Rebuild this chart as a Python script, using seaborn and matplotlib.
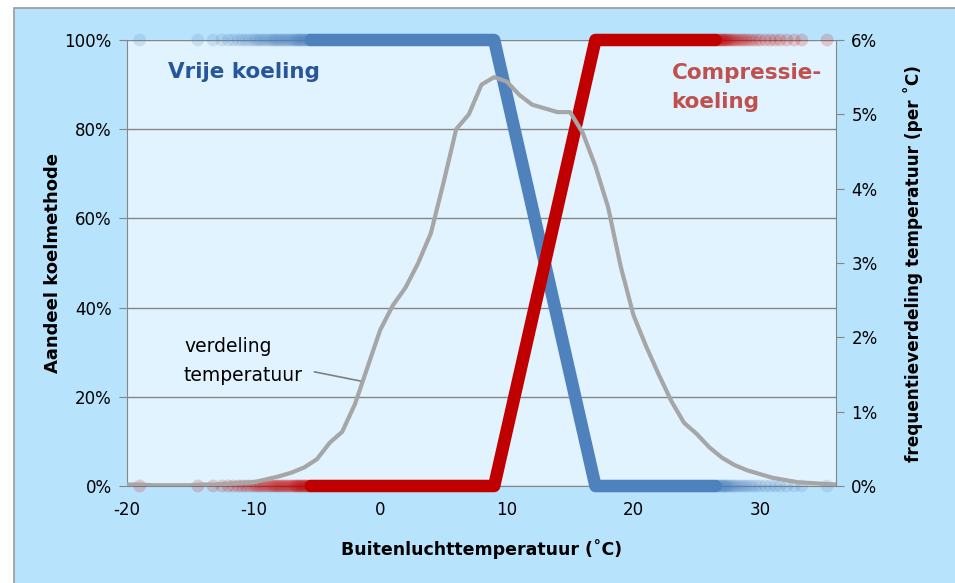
import pandas as pd
import matplotlib.pyplot as plt
import seaborn as sns
from matplotlib.patches import Rectangle

# share of each cooling method (%) at the corner temperatures
knik_temp = [-5.5, 9, 17, 26.5]
vrije_koeling = [100, 100, 0, 0]
compressie_koeling = [0, 0, 100, 100]

# loose hourly temperatures at the cold and warm ends (pale dots)
koude_uren = [-19, -14.4, -13.2, -12.5, -12.0, -11.6, -11.2, -10.9, -10.6, -10.3,
              -10.0, -9.8, -9.6, -9.4, -9.2, -9.0, -8.8, -8.6, -8.45, -8.3,
              -8.15, -8.0, -7.85, -7.7, -7.55, -7.4, -7.25, -7.1, -6.95, -6.8,
              -6.7, -6.6, -6.5, -6.4, -6.3, -6.2, -6.1, -6.0, -5.9, -5.8,
              -5.7, -5.6]
warme_uren = [35.3, 33.3, 32.7, 32.1, 31.6, 31.2, 30.8, 30.4, 30.0, 29.7,
              29.4, 29.15, 28.9, 28.7, 28.5, 28.3, 28.1, 27.95, 27.8, 27.65,
              27.5, 27.4, 27.3, 27.2, 27.1, 27.0, 26.9, 26.8, 26.7, 26.6]

# frequency distribution of the outdoor temperature (% per degree C)
temp = list(range(-20, 37))
freq = [0.02, 0.02, 0.01, 0.01, 0.01, 0.01, 0.02, 0.02, 0.03, 0.04,
        0.05, 0.09, 0.13, 0.18, 0.25, 0.36, 0.58, 0.73, 1.10, 1.60,
        2.10, 2.43, 2.67, 3.00, 3.40, 4.08, 4.80, 5.00, 5.40, 5.50,
        5.44, 5.26, 5.13, 5.08, 5.03, 5.03, 4.75, 4.30, 3.75, 2.95,
        2.30, 1.88, 1.50, 1.14, 0.85, 0.70, 0.52, 0.38, 0.28, 0.21,
        0.16, 0.11, 0.08, 0.05, 0.04, 0.03, 0.02]

blauw = "#4f81bd"
rood = "#c00000"
grijs = "#868686"

df_lijn = pd.DataFrame({"T": knik_temp, "vrij": vrije_koeling, "comp": compressie_koeling})
df_koud = pd.DataFrame({"T": koude_uren})
df_warm = pd.DataFrame({"T": warme_uren})
df_freq = pd.DataFrame({"T": temp, "f": freq})

sns.set_style("white")
plt.rcParams["font.family"] = ["DejaVu Sans"]
plt.rcParams["axes.unicode_minus"] = False
plt.rcParams["text.color"] = "black"
plt.rcParams["axes.labelcolor"] = "black"

fig = plt.figure(figsize=(9.55, 5.83), dpi=100, facecolor="white")
fig.patches.append(Rectangle((14 / 955, -0.1), 1.0, 1.1 - 8 / 583, transform=fig.transFigure,
                             facecolor="#b7e3fc", edgecolor="#9a9a9a", lw=1.2, zorder=-1))
ax = fig.add_axes([127 / 955, 1 - 486 / 583, (836 - 127) / 955, (486 - 40) / 583])
ax.set_facecolor("#e1f3fe")

# loose dots first, then the solid bands
for d, y_blauw, y_rood in [(df_koud, 100, 0), (df_warm, 0, 100)]:
    sns.scatterplot(x=d["T"], y=[y_blauw] * len(d), ax=ax, color=blauw, s=85,
                    alpha=0.18, edgecolor="none", clip_on=False, zorder=3, legend=False)
    sns.scatterplot(x=d["T"], y=[y_rood] * len(d), ax=ax, color=rood, s=85,
                    alpha=0.18, edgecolor="none", clip_on=False, zorder=3, legend=False)

sns.lineplot(data=df_lijn, x="T", y="vrij", ax=ax, color=blauw, lw=9, clip_on=False,
             solid_capstyle="round", solid_joinstyle="round", zorder=4)
sns.lineplot(data=df_lijn, x="T", y="comp", ax=ax, color=rood, lw=9, clip_on=False,
             solid_capstyle="round", solid_joinstyle="round", zorder=5)

ax.set_xlim(-20, 36)
ax.set_ylim(0, 100)
ax.set_xticks(range(-20, 31, 10))
ax.set_yticks(range(0, 101, 20))
ax.set_yticklabels([f"{v}%" for v in range(0, 101, 20)])
ax.yaxis.grid(True, color=grijs, lw=1)
ax.set_axisbelow(True)
for s in ["top", "right"]:
    ax.spines[s].set_visible(False)
for s in ["left", "bottom"]:
    ax.spines[s].set_color(grijs)
ax.tick_params(axis="both", direction="out", length=6, color=grijs, labelsize=12,
               labelcolor="black", pad=5)
ax.set_xlabel("Buitenluchttemperatuur (˚C)", fontsize=12.5, fontweight="bold", labelpad=14)
ax.set_ylabel("Aandeel koelmethode", fontsize=13, fontweight="bold", labelpad=2)

ax2 = ax.twinx()
sns.lineplot(data=df_freq, x="T", y="f", ax=ax2, color="#a6a6a6", lw=3, zorder=6,
             solid_joinstyle="round", solid_capstyle="round")
ax2.set_ylim(0, 6)
ax2.set_yticks(range(0, 7))
ax2.set_yticklabels([f"{v}%" for v in range(0, 7)])
for s in ["top", "left", "bottom"]:
    ax2.spines[s].set_visible(False)
ax2.spines["right"].set_color(grijs)
ax2.tick_params(axis="y", direction="out", length=6, color=grijs, labelsize=12,
                labelcolor="black", pad=5)
ax2.set_ylabel("frequentieverdeling temperatuur (per ˚C)", fontsize=12.2,
               fontweight="bold", labelpad=18)
ax2.set_xlabel("")

ax.text(-16.8, 92.8, "Vrije koeling", color="#27579a", fontsize=15.5,
        fontweight="bold", va="center", ha="left")
ax.text(23.0, 89.3, "Compressie-\nkoeling", color="#c0504d", fontsize=15.5,
        fontweight="bold", va="center", ha="left", linespacing=1.55)
ax2.text(-15.5, 6 * 0.28, "verdeling\ntemperatuur", color="black", fontsize=13.5,
         va="center", ha="left", linespacing=1.65)
ax2.plot([-5.2, -1.5], [6 * 0.256, 6 * 0.235], color="#7f7f7f", lw=1.2)

fig.savefig("out.png", dpi=100, facecolor=fig.get_facecolor())
